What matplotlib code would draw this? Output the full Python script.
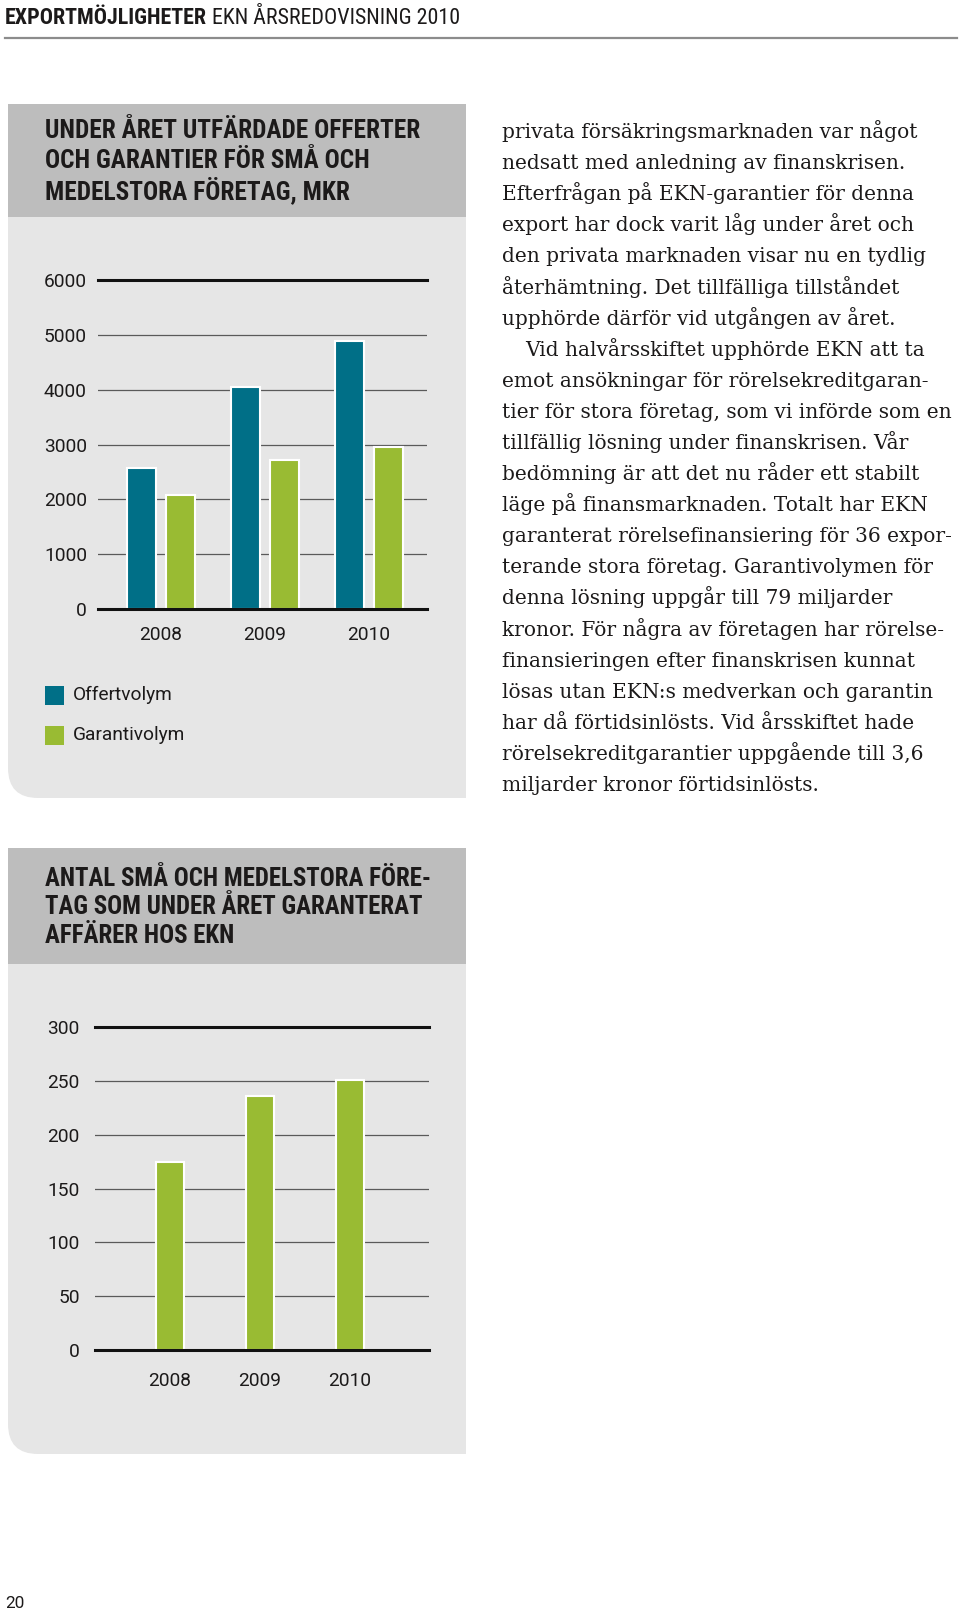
import numpy as np
import matplotlib
matplotlib.use("Agg")
from matplotlib import pyplot as plt
from matplotlib.patches import Rectangle, FancyBboxPatch

# --- data ---
years = ["2008", "2009", "2010"]
series_names = ["Offertvolym", "Garantivolym"]
offertvolym = [2580, 4040, 4890]
garantivolym = [2070, 2720, 2950]
ticks_mkr = [0, 1000, 2000, 3000, 4000, 5000, 6000]

antal_foretag = [175, 236, 251]
ticks_antal = [0, 50, 100, 150, 200, 250, 300]

title_1 = ["UNDER ÅRET UTFÄRDADE OFFERTER",
           "OCH GARANTIER FÖR SMÅ OCH",
           "MEDELSTORA FÖRETAG, MKR"]
title_2 = ["ANTAL SMÅ OCH MEDELSTORA FÖRE-",
           "TAG SOM UNDER ÅRET GARANTERAT",
           "AFFÄRER HOS EKN"]

body_lines = [
    "privata försäkringsmarknaden var något",
    "nedsatt med anledning av finanskrisen.",
    "Efterfrågan på EKN-garantier för denna",
    "export har dock varit låg under året och",
    "den privata marknaden visar nu en tydlig",
    "återhämtning. Det tillfälliga tillståndet",
    "upphörde därför vid utgången av året.",
    "Vid halvårsskiftet upphörde EKN att ta",
    "emot ansökningar för rörelsekreditgaran-",
    "tier för stora företag, som vi införde som en",
    "tillfällig lösning under finanskrisen. Vår",
    "bedömning är att det nu råder ett stabilt",
    "läge på finansmarknaden. Totalt har EKN",
    "garanterat rörelsefinansiering för 36 expor-",
    "terande stora företag. Garantivolymen för",
    "denna lösning uppgår till 79 miljarder",
    "kronor. För några av företagen har rörelse-",
    "finansieringen efter finanskrisen kunnat",
    "lösas utan EKN:s medverkan och garantin",
    "har då förtidsinlösts. Vid årsskiftet hade",
    "rörelsekreditgarantier uppgående till 3,6",
    "miljarder kronor förtidsinlösts.",
]

# --- style ---
BLUE = "#006f87"
GREEN = "#99bb33"
PANEL = "#e6e6e6"
BAND = "#bdbdbd"
GRID = "#5a5a5a"
TEXT = "#1c1a1a"
HEAD = ["Roboto Condensed", "Roboto", "DejaVu Sans"]
SANS = ["Roboto", "DejaVu Sans"]
SERIF = ["DejaVu Serif"]

W, H = 960, 1613
fig = plt.figure(figsize=(W / 100, H / 100), dpi=100)
fig.patch.set_facecolor("white")
renderer = fig.canvas.get_renderer()

# full-page axes in pixel units for the layout pieces
bg = fig.add_axes([0, 0, 1, 1])
bg.set_xlim(0, W)
bg.set_ylim(H, 0)
bg.axis("off")


def fit_size(text, family, target_px, weight="normal", base=20.0):
    # font size (pt) that makes `text` about target_px wide
    t = bg.text(0, 0, text, family=family, weight=weight, size=base)
    w = t.get_window_extent(renderer).width
    t.remove()
    return base * target_px / w


def px_axes(left, top, right, bottom):
    return fig.add_axes([left / W, 1 - bottom / H, (right - left) / W, (bottom - top) / H])


def panel(top, band_bottom, bottom, left=8, right=466, r=30):
    bg.add_patch(FancyBboxPatch((left + r, top + r), right - left - 2 * r, bottom - top - 2 * r,
                                boxstyle="round,pad=%d" % r, fc=PANEL, ec="none"))
    # square off all corners but the bottom-left one
    bg.add_patch(Rectangle((right - 2 * r, bottom - 2 * r), 2 * r, 2 * r, fc=PANEL, ec="none"))
    bg.add_patch(Rectangle((left, top), right - left, band_bottom - top, fc=BAND, ec="none"))


# page header
hs = fit_size("EXPORTMÖJLIGHETER", HEAD, 203, weight="bold")
t1 = bg.text(5, 24, "EXPORTMÖJLIGHETER", family=HEAD, weight="bold", size=hs,
             color=TEXT, va="baseline")
bg.annotate(" EKN ÅRSREDOVISNING 2010", xy=(1, 0), xycoords=t1, family=HEAD, size=hs,
            color=TEXT, va="bottom", ha="left")
bg.plot([5, 957], [38, 38], color="#8c8c8c", lw=1.6)

# panels
panel(104, 217, 798)
panel(848, 964, 1454)
ts1 = fit_size(title_1[0], HEAD, 375, weight="bold")
for i, line in enumerate(title_1):
    bg.text(45, 131 + 29.5 * i, line, family=HEAD, weight="bold", size=ts1,
            color=TEXT, va="center")
ts2 = fit_size(title_2[0], HEAD, 388, weight="bold")
for i, line in enumerate(title_2):
    bg.text(45, 879 + 28.5 * i, line, family=HEAD, weight="bold", size=ts2,
            color=TEXT, va="center")

tick_size = fit_size("6000", SANS, 43)
legend_size = fit_size("Offertvolym", SANS, 100)


def style_chart(ax, ticks, xlim, pad_y, pad_x):
    ax.set_facecolor("none")
    ax.set_xlim(*xlim)
    ax.set_ylim(ticks[0], ticks[-1])
    for s in ax.spines.values():
        s.set_visible(False)
    for t in ticks[1:-1]:
        ax.axhline(t, color=GRID, lw=0.9, zorder=1)
    for t in (ticks[0], ticks[-1]):
        ax.axhline(t, color="#111111", lw=2.2, zorder=4, clip_on=False)
    ax.set_yticks(ticks)
    ax.set_yticklabels([str(t) for t in ticks], family=SANS, size=tick_size, color=TEXT)
    ax.tick_params(axis="y", length=0, pad=pad_y)
    ax.tick_params(axis="x", length=0, pad=pad_x)


# chart 1: grouped bars
ax1 = px_axes(98, 280, 427, 609)
x = np.arange(len(years))
ax1.bar(x - 0.19, offertvolym, width=0.28, color=BLUE, edgecolor="white", linewidth=1.5,
        zorder=2)
ax1.bar(x + 0.19, garantivolym, width=0.28, color=GREEN, edgecolor="white", linewidth=1.5,
        zorder=2)
ax1.set_xticks(x)
ax1.set_xticklabels(years, family=SANS, size=tick_size, color=TEXT)
style_chart(ax1, ticks_mkr, (-0.606, 2.558), 8, 12)

# legend
for i, (name, col) in enumerate(zip(series_names, [BLUE, GREEN])):
    yc = 695 + 40 * i
    bg.add_patch(Rectangle((45, yc - 9.5), 19, 19, fc=col, ec="none"))
    bg.text(73, yc, name, family=SANS, size=legend_size, color=TEXT, va="center", ha="left")

# chart 2: single series
ax2 = px_axes(95, 1027, 429, 1350)
ax2.bar(x, antal_foretag, width=0.31, color=GREEN, edgecolor="white", linewidth=1.5, zorder=2)
ax2.set_xticks(x)
ax2.set_xticklabels(years, family=SANS, size=tick_size, color=TEXT)
style_chart(ax2, ticks_antal, (-0.833, 2.878), 11, 16)

# body text
body_size = fit_size(body_lines[9], SERIF, 448)
for i, line in enumerate(body_lines):
    indent = 23 if line.startswith("Vid halv") else 0
    bg.text(502 + indent, 138 + 31.1 * i, line, family=SERIF, size=body_size, color=TEXT,
            va="baseline", ha="left")

# page number
bg.text(5, 1604, "20", family=SANS, size=tick_size * 0.9, color=TEXT, va="center")

fig.savefig("out.png", dpi=100, facecolor="white")
